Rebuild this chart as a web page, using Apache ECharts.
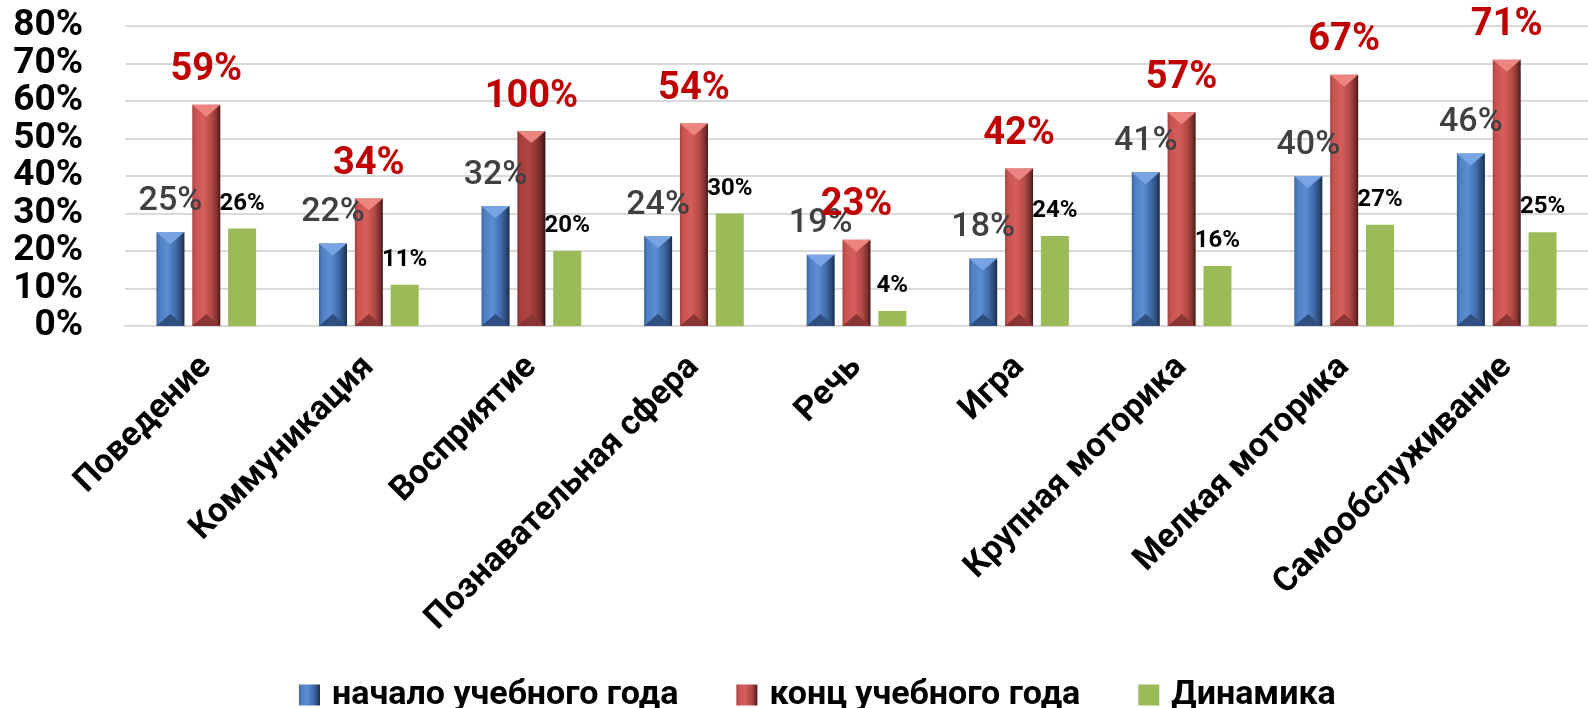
<!DOCTYPE html>
<html>
<head>
<meta charset="utf-8">
<script src="https://cdn.jsdelivr.net/npm/echarts@6/dist/echarts.min.js"></script>
<style>
html,body{margin:0;padding:0;background:#fff;}
#c{width:1588px;height:708px;}
</style>
</head>
<body>
<div id="c"></div>
<script>
const categories = ['Поведение','Коммуникация','Восприятие','Познавательная сфера','Речь','Игра','Крупная моторика','Мелкая моторика','Самообслуживание'];
const seriesNames = ['начало учебного года','конц учебного года','Динамика'];
const startValues = [25,22,32,24,19,18,41,40,46];
const endValues = [59,34,52,54,23,42,57,67,71];
const endLabels = ['59%','34%','100%','54%','23%','42%','57%','67%','71%'];
const dynValues = [26,11,20,30,4,24,16,27,25];

const FONT = 'Roboto, "Open Sans", sans-serif';
function hgrad(stops){
  return new echarts.graphic.LinearGradient(0,0,1,0, stops.map(s=>({offset:s[0],color:s[1]})));
}
const blueGrad = hgrad([[0,'#3a64a0'],[0.12,'#4f80c4'],[0.4,'#5b8ed4'],[0.7,'#3f6aa8'],[0.9,'#2b4670'],[1,'#1a2a44']]);
const redGrad = hgrad([[0,'#a94341'],[0.12,'#c85452'],[0.4,'#d65e5b'],[0.7,'#b24a47'],[0.9,'#7a2e2d'],[1,'#3e1716']]);
const redDarkGrad = hgrad([[0,'#8e3533'],[0.12,'#a63f3d'],[0.4,'#b04644'],[0.7,'#8c3634'],[0.9,'#5e2221'],[1,'#2e1010']]);

const BAR_W = 28, BAR_STEP = 36;
function bevel(offsetSteps, topColor, botColor){
  return function(params, api){
    const cat = api.value(0), val = api.value(1);
    const top = api.coord([cat, val]);
    const base = api.coord([cat, 0]);
    const cx = top[0] + offsetSteps*BAR_STEP;
    const x0 = cx - BAR_W/2, x1 = cx + BAR_W/2;
    const d = 12;
    return {type:'group', children:[
      {type:'polygon', shape:{points:[[x0,top[1]],[x1,top[1]],[cx,top[1]+d]]}, style:{fill:topColor}},
      {type:'polygon', shape:{points:[[x0,base[1]],[x1,base[1]],[cx,base[1]-d]]}, style:{fill:botColor}}
    ]};
  };
}

const chart = echarts.init(document.getElementById('c'), null, {renderer:'canvas'});
chart.setOption({
  animation:false,
  backgroundColor:'#ffffff',
  textStyle:{fontFamily:FONT},
  grid:{left:125, top:26, width:1472, bottom:382, containLabel:false},
  legend:{
    left:294, top:673,
    itemWidth:21, itemHeight:21, itemGap:58,
    icon:'rect',
    textStyle:{fontFamily:FONT, fontSize:34, fontWeight:'bold', color:'#000', padding:[0,0,0,7]},
    data:seriesNames
  },
  xAxis:{
    type:'category',
    data:categories,
    axisLine:{show:true, lineStyle:{color:'#d9d9d9', width:2}},
    axisTick:{show:false},
    axisLabel:{interval:0, rotate:45, margin:36, fontFamily:FONT, fontSize:34, fontWeight:'bold', color:'#000'}
  },
  yAxis:{
    type:'value', min:0, max:80, interval:10,
    axisLine:{show:false}, axisTick:{show:false},
    splitLine:{lineStyle:{color:'#d9d9d9', width:2}},
    axisLabel:{margin:42, fontFamily:FONT, fontSize:37, fontWeight:'bold', color:'#000', formatter:'{value}%'}
  },
  series:[
    {
      name:seriesNames[0], type:'bar', barWidth:BAR_W, barGap:'28%', z:2,
      data:startValues,
      itemStyle:{color:blueGrad},
      label:{show:true, position:'top', distance:14, fontFamily:FONT, fontSize:34, fontWeight:500, color:'#404040', formatter:p=>p.value+'%'}
    },
    {
      name:seriesNames[1], type:'bar', barWidth:BAR_W, barGap:'28%', z:2,
      data:endValues.map((v,i)=> i===2 ? {value:v, itemStyle:{color:redDarkGrad}} : v),
      itemStyle:{color:redGrad},
      label:{show:true, position:'top', distance:15, fontFamily:FONT, fontSize:38, fontWeight:'bold', color:'#c00000', formatter:p=>endLabels[p.dataIndex]}
    },
    {
      name:seriesNames[2], type:'bar', barWidth:BAR_W, barGap:'28%', z:2,
      data:dynValues,
      itemStyle:{color:'#9bbb59'},
      label:{show:true, position:'top', distance:13, fontFamily:FONT, fontSize:24, fontWeight:'bold', color:'#000', formatter:p=>p.value+'%'}
    },
    {
      type:'custom', silent:true, z:3,
      renderItem:bevel(-1, '#78a4e4', '#2f4f80'),
      data:startValues.map((v,i)=>[i,v])
    },
    {
      type:'custom', silent:true, z:3,
      renderItem:bevel(0, '#ec847f', '#8a3533'),
      data:endValues.map((v,i)=>[i,v])
    }
  ]
});
</script>
</body>
</html>
